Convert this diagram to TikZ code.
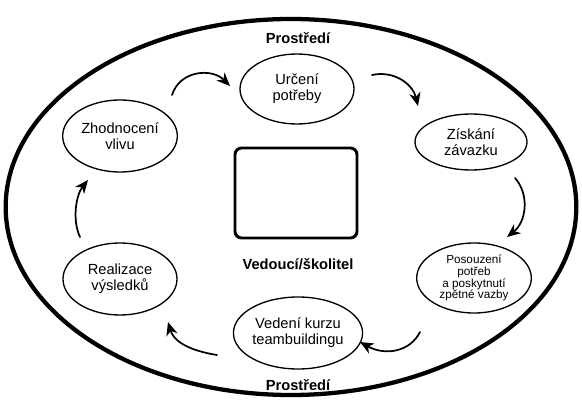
\documentclass[tikz,border=0pt]{standalone}
\usepackage{fontspec}
\setmainfont{Liberation Sans}
\usetikzlibrary{arrows.meta,shapes.geometric}
\tikzset{
  every picture/.style={line join=round, line cap=round, >=Stealth},
  stage/.style={ellipse, draw, line width=1pt, inner sep=0pt, align=center, font=\fontsize{11}{12}\selectfont},
  cyc/.style={-{Stealth[length=10pt,width=8.5pt,inset=3pt]}, line width=1.3pt},
  env/.style={font=\bfseries\fontsize{11}{13}\selectfont},
}

\begin{document}
\begin{tikzpicture}[x=0.75pt,y=-0.75pt]
\useasboundingbox (0,0) rectangle (582,406);
\draw[line width=3.2pt] (291,207) ellipse [x radius=214pt, y radius=141pt];
\node[draw, line width=2.2pt, rounded corners=5pt, minimum width=91.5pt, minimum height=67.5pt] (box) at (296,193) {};
\node[env] (envtop) at (298,38) {Prostředí};
\node[env] (envbot) at (298,385) {Prostředí};
\node[env] (lead) at (298,264) {Vedoucí/školitel};
% cycle stages
\node[stage, minimum width=85.5pt, minimum height=52.5pt] (urc) at (297,89) {Určení\\potřeby};
\node[stage, minimum width=84pt, minimum height=42pt] (zisk) at (471,142) {Získání\\závazku};
\node[stage, minimum width=86pt, minimum height=52.5pt, font=\fontsize{8.8}{8.9}\selectfont] (poso) at (474,278) {Posouzení\\potřeb\\a poskytnutí\\zpětné vazby};
\node[stage, minimum width=87pt, minimum height=54pt] (vede) at (298,333) {Vedení kurzu\\teambuildingu};
\node[stage, minimum width=85.5pt, minimum height=54pt] (real) at (120,279) {Realizace\\výsledků};
\node[stage, minimum width=86pt, minimum height=54pt] (zhod) at (120,136) {Zhodnocení\\vlivu};
% arrows
\coordinate (a1) at (172,95);  \coordinate (b1) at (230,86);
\coordinate (a2) at (372,75);  \coordinate (b2) at (418,106);
\coordinate (a3) at (515,178); \coordinate (b3) at (507,237);
\coordinate (a4) at (420,332); \coordinate (b4) at (360,342);
\coordinate (a5) at (217,355); \coordinate (b5) at (168,322);
\coordinate (a6) at (80,237);  \coordinate (b6) at (88,180);
\draw[cyc] (a1) .. controls (180,70) and (212,68) .. (b1);
\draw[cyc] (a2) .. controls (395,70) and (413,85) .. (b2);
\draw[cyc] (a3) .. controls (530,195) and (526,222) .. (b3);
\draw[cyc] (a4) .. controls (410,352) and (385,356) .. (b4);
\draw[cyc] (a5) .. controls (198,352) and (175,345) .. (b5);
\draw[cyc] (a6) .. controls (72,220) and (76,195) .. (b6);
\end{tikzpicture}
\end{document}
